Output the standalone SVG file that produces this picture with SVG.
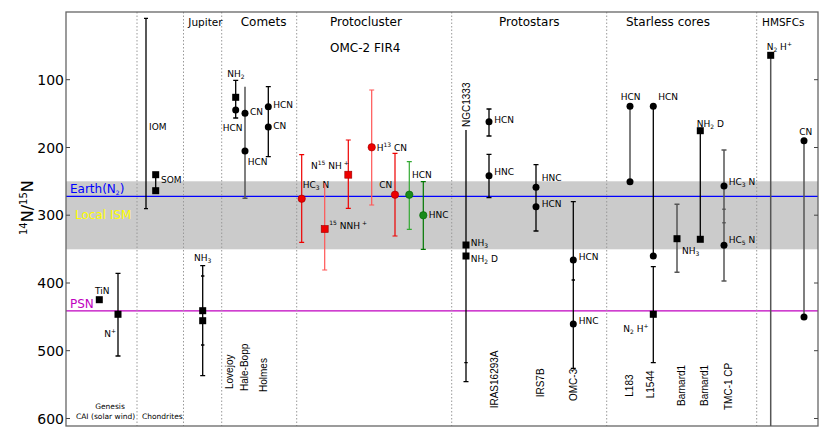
<svg xmlns="http://www.w3.org/2000/svg" width="830" height="442" viewBox="0 0 830 442">
<style>
text{font-family:"DejaVu Sans","Liberation Sans",sans-serif;fill:#000}
.lb{font-size:9px}
.s{font-size:6px}
.cat{font-size:12px}
.cs{font-size:10.5px}
.tk{font-size:14px}
.vl{font-family:"Liberation Sans","DejaVu Sans",sans-serif;font-size:10px}
.bt{font-size:7.5px}
.k{stroke:#000;stroke-width:1.3;fill:none}
.g{stroke:#555;stroke-width:1.5;fill:none}
.r{stroke:#e00;stroke-width:1.2;fill:none}
.lr{stroke:#f55;stroke-width:1.2;fill:none}
.gn{stroke:#070;stroke-width:1.2;fill:none}
.lg{stroke:#3a3;stroke-width:1.2;fill:none}
.dot{stroke:#999;stroke-width:1;stroke-dasharray:1.5,2}
.fr{stroke:#666;stroke-width:1.3;fill:none}
</style>
<rect width="830" height="442" fill="#fff"/>
<g id="bands">
<rect x="66" y="181.3" width="752" height="68" fill="#cbcbcb"/>
<line x1="66" y1="196.3" x2="818" y2="196.3" stroke="#0000ff" stroke-width="1.3"/>
<line x1="66" y1="310.8" x2="818" y2="310.8" stroke="#bf00bf" stroke-width="1.3"/>
<text x="70" y="193" style="font-size:12px;fill:#0000ff">Earth(N<tspan class="s" dy="2" style="fill:#0000ff">2</tspan><tspan dy="-2" style="fill:#0000ff">)</tspan></text>
<text x="75" y="218.5" style="font-size:12px;fill:#ffff00">Local ISM</text>
<text x="70" y="308" style="font-size:12px;fill:#bf00bf">PSN</text>
</g>
<g id="dividers">
<line class="dot" x1="137" y1="12" x2="137" y2="426"/>
<line class="dot" x1="183.5" y1="12" x2="183.5" y2="426"/>
<line class="dot" x1="221.7" y1="12" x2="221.7" y2="426"/>
<line class="dot" x1="296.7" y1="12" x2="296.7" y2="426"/>
<line class="dot" x1="451.7" y1="12" x2="451.7" y2="426"/>
<line class="dot" x1="606.7" y1="12" x2="606.7" y2="426"/>
<line class="dot" x1="756.7" y1="12" x2="756.7" y2="426"/>
</g>
<g id="axes">
<rect class="fr" x="66" y="12" width="752" height="414"/>
<g stroke="#444" stroke-width="1">
<line x1="66" y1="79.7" x2="70" y2="79.7"/><line x1="66" y1="147.5" x2="70" y2="147.5"/><line x1="66" y1="215.2" x2="70" y2="215.2"/><line x1="66" y1="283" x2="70" y2="283"/><line x1="66" y1="350.7" x2="70" y2="350.7"/><line x1="66" y1="418.5" x2="70" y2="418.5"/>
<line x1="814" y1="79.7" x2="818" y2="79.7"/><line x1="814" y1="147.5" x2="818" y2="147.5"/><line x1="814" y1="215.2" x2="818" y2="215.2"/><line x1="814" y1="283" x2="818" y2="283"/><line x1="814" y1="350.7" x2="818" y2="350.7"/><line x1="814" y1="418.5" x2="818" y2="418.5"/>
</g>
<g class="tk" text-anchor="end">
<text class="tk" x="64" y="84.7">100</text>
<text class="tk" x="64" y="152.5">200</text>
<text class="tk" x="64" y="220.2">300</text>
<text class="tk" x="64" y="288">400</text>
<text class="tk" x="64" y="355.7">500</text>
<text class="tk" x="64" y="423.5">600</text>
</g>
<text transform="translate(33,235) rotate(-90)" style="font-size:16px"><tspan style="font-size:10px" dy="-6">14</tspan><tspan dy="6">N/</tspan><tspan style="font-size:10px" dy="-6">15</tspan><tspan dy="6">N</tspan></text>
</g>
<g id="headings">
<text class="cs" x="188.3" y="26">Jupiter</text>
<text class="cat" x="240.7" y="26">Comets</text>
<text class="cat" x="330" y="26">Protocluster</text>
<text class="cat" x="330" y="51.7">OMC-2 FIR4</text>
<text class="cat" x="499" y="26">Protostars</text>
<text class="cat" x="626" y="26">Starless cores</text>
<text class="cs" x="762" y="26">HMSFCs</text>
<text class="bt" x="110" y="409" text-anchor="middle">Genesis</text>
<text class="bt" x="76" y="419">CAI (solar wind)</text>
<text class="bt" x="142" y="419">Chondrites</text>
</g>
<g id="genesis">
<rect x="95.8" y="296.2" width="7" height="7"/>
<text class="lb" x="95" y="294">TiN</text>
<path class="k" d="M118 273.3V356M115.5 273.3h5M115.5 356h5"/>
<rect x="114.5" y="310.8" width="7" height="7"/>
<text class="lb" x="104.3" y="337">N<tspan class="s" dy="-4">+</tspan></text>
</g>
<g id="chondrites">
<path class="k" d="M146 18.3V208.7M144 18.3h4M144 208.7h4"/>
<text class="lb" x="149" y="129.5">IOM</text>
<path class="k" d="M155.7 174.7V190.7"/>
<rect x="152.2" y="171.2" width="7" height="7"/>
<rect x="152.2" y="187.2" width="7" height="7"/>
<text class="lb" x="161" y="182.7">SOM</text>
</g>
<g id="jupiter">
<path class="k" d="M202.7 265.7V375.7M200.2 265.7h5M200.2 375.7h5M201 276h3.4M201 345h3.4"/>
<rect x="199.2" y="307.2" width="7" height="7"/>
<rect x="199.2" y="317.2" width="7" height="7"/>
<text class="lb" x="194" y="261">NH<tspan class="s" dy="2">3</tspan></text>
</g>
<g id="lovejoy">
<path class="k" d="M235.7 80.3V118M233.2 80.3h5M233.2 118h5"/>
<rect x="232.2" y="93.8" width="7" height="7"/>
<circle cx="235.7" cy="110" r="3.5"/>
<text class="lb" x="227.3" y="77.3">NH<tspan class="s" dy="2">2</tspan></text>
<text class="lb" x="222.7" y="131">HCN</text>
<text class="vl" transform="translate(233,389) rotate(-90)">Lovejoy</text>
</g>
<g id="halebopp">
<path class="g" d="M245 86.7V198.3M242.5 198.3h5"/>
<circle cx="245" cy="113.3" r="3.5"/>
<circle cx="245" cy="151" r="3.5"/>
<text class="lb" x="250" y="114.5">CN</text>
<text class="lb" x="247.7" y="165.3">HCN</text>
<text class="vl" transform="translate(248,391) rotate(-90)">Hale-Bopp</text>
</g>
<g id="holmes">
<path class="k" d="M268.3 86.7V156.7M265.8 86.7h5M265.8 156.7h5"/>
<circle cx="268.3" cy="106.7" r="3.5"/>
<circle cx="268.3" cy="127" r="3.5"/>
<text class="lb" x="273.3" y="108.3">HCN</text>
<text class="lb" x="273.3" y="128.7">CN</text>
<text class="vl" transform="translate(267,392) rotate(-90)">Holmes</text>
</g>
<g id="omc2-hc3n">
<path class="r" d="M301.7 154.7V242.3M299.2 154.7h5M299.2 242.3h5"/>
<circle cx="301.7" cy="198.7" r="3.7" fill="#e00" stroke="#900" stroke-width="0.6"/>
<text class="lb" x="302.7" y="187.7">HC<tspan class="s" dy="2">3</tspan><tspan dy="-2"> N</tspan></text>
</g>
<g id="omc2-15nnh">
<path class="lr" d="M324.7 183V270M322.2 270h5"/>
<rect x="321.2" y="225.5" width="7" height="7" fill="#e00" stroke="#900" stroke-width="0.6"/>
<text class="lb" x="329.3" y="229"><tspan class="s" dy="-4">15</tspan><tspan dy="4"> NNH</tspan><tspan class="s" dy="-4"> +</tspan></text>
</g>
<g id="omc2-n15nh">
<path class="r" d="M348.3 140V208.3M345.8 140h5M345.8 208.3h5"/>
<rect x="344.8" y="171.2" width="7" height="7" fill="#e00" stroke="#900" stroke-width="0.6"/>
<text class="lb" x="311" y="169">N<tspan class="s" dy="-4">15</tspan><tspan dy="4"> NH</tspan><tspan class="s" dy="-4"> +</tspan></text>
</g>
<g id="omc2-h13cn">
<path class="lr" d="M371.7 90V205M369.2 90h5M369.2 205h5"/>
<circle cx="371.7" cy="147.3" r="3.7" fill="#e00" stroke="#900" stroke-width="0.6"/>
<text class="lb" x="376.7" y="150.7">H<tspan class="s" dy="-4">13</tspan><tspan dy="4"> CN</tspan></text>
</g>
<g id="omc2-cn">
<path class="r" d="M395 153.3V236M392.5 153.3h5M392.5 236h5"/>
<circle cx="395" cy="194.7" r="3.7" fill="#e00" stroke="#900" stroke-width="0.6"/>
<text class="lb" x="379.3" y="187.7">CN</text>
</g>
<g id="omc2-hcn">
<path class="lg" d="M409.3 161.7V229.3M406.8 161.7h5M406.8 229.3h5"/>
<circle cx="409.3" cy="194.7" r="3.7" fill="#1a8a1a" stroke="#060" stroke-width="0.6"/>
<text class="lb" x="412" y="178.3">HCN</text>
</g>
<g id="omc2-hnc">
<path class="gn" d="M423.3 181.7V249.3M420.8 181.7h5M420.8 249.3h5"/>
<circle cx="423.3" cy="215.3" r="3.7" fill="#1a8a1a" stroke="#060" stroke-width="0.6"/>
<text class="lb" x="428.7" y="218.3">HNC</text>
</g>
<g id="ngc1333">
<path class="k" d="M466 130V381.7M463.5 381.7h5M464.3 362.7h3.4"/>
<rect x="462.5" y="241.5" width="7" height="7"/>
<rect x="462.5" y="252.5" width="7" height="7"/>
<text class="lb" x="470.7" y="246">NH<tspan class="s" dy="2">3</tspan></text>
<text class="lb" x="470.7" y="262.3">NH<tspan class="s" dy="2">2</tspan><tspan dy="-2"> D</tspan></text>
<text class="vl" transform="translate(470,127) rotate(-90)">NGC1333</text>
</g>
<g id="iras16293a">
<path class="k" d="M489 109V136M486.5 109h5M486.5 136h5M489 154.3V197.7M486.5 154.3h5M486.5 197.7h5"/>
<circle cx="489" cy="121.7" r="3.5"/>
<circle cx="489" cy="175.7" r="3.5"/>
<text class="lb" x="494.3" y="123.3">HCN</text>
<text class="lb" x="494.3" y="175">HNC</text>
<text class="vl" transform="translate(497.5,408.3) rotate(-90)">IRAS16293A</text>
</g>
<g id="irs7b">
<path class="k" d="M536 164.7V231M533.5 164.7h5M533.5 231h5"/>
<circle cx="536" cy="187.3" r="3.5"/>
<circle cx="536" cy="206.7" r="3.5"/>
<text class="lb" x="541.7" y="180.7">HNC</text>
<text class="lb" x="541.7" y="206.7">HCN</text>
<text class="vl" transform="translate(544,397.3) rotate(-90)">IRS7B</text>
</g>
<g id="omc3">
<path class="k" d="M573.3 201.7V368.3M570.8 201.7h5M570.8 368.3h5M571.6 280h3.4"/>
<circle cx="573.3" cy="260" r="3.5"/>
<circle cx="573.3" cy="324" r="3.5"/>
<text class="lb" x="578.7" y="260">HCN</text>
<text class="lb" x="578.7" y="324">HNC</text>
<text class="vl" transform="translate(576.5,401) rotate(-90)">OMC-3</text>
</g>
<g id="l183">
<path class="g" d="M630 106.3V181.7"/>
<circle cx="630" cy="106.3" r="3.5"/>
<circle cx="630" cy="181.7" r="3.5"/>
<text class="lb" x="620.7" y="100">HCN</text>
<text class="vl" transform="translate(633,396.7) rotate(-90)">L183</text>
</g>
<g id="l1544">
<path class="k" d="M653.3 106.3V256M653.3 266.7V362.7M650.8 266.7h5M650.8 362.7h5"/>
<circle cx="653.3" cy="106.3" r="3.5"/>
<circle cx="653.3" cy="256" r="3.5"/>
<rect x="649.8" y="310.8" width="7" height="7"/>
<text class="lb" x="658.3" y="100">HCN</text>
<text class="lb" x="623.3" y="332.3">N<tspan class="s" dy="2">2</tspan><tspan dy="-2"> H</tspan><tspan class="s" dy="-4">+</tspan></text>
<text class="vl" transform="translate(654,398.3) rotate(-90)">L1544</text>
</g>
<g id="barnard1-nh3">
<path class="g" d="M677 204.3V272.3M674.5 204.3h5M674.5 272.3h5"/>
<rect x="673.5" y="235.2" width="7" height="7"/>
<text class="lb" x="682" y="254.3">NH<tspan class="s" dy="2">3</tspan></text>
<text class="vl" transform="translate(685,406) rotate(-90)">Barnard1</text>
</g>
<g id="barnard1-nh2d">
<path class="k" d="M700.3 130.7V239.3"/>
<rect x="696.8" y="127.2" width="7" height="7"/>
<rect x="696.8" y="235.8" width="7" height="7"/>
<text class="lb" x="696.7" y="127.3">NH<tspan class="s" dy="2">2</tspan><tspan dy="-2"> D</tspan></text>
<text class="vl" transform="translate(708,406) rotate(-90)">Barnard1</text>
</g>
<g id="tmc1cp">
<path class="g" d="M724 150V281M721.5 150h5M721.5 281h5M722.3 209.3h3.4M722.3 222.7h3.4"/>
<circle cx="724" cy="186" r="3.5"/>
<circle cx="724" cy="245.3" r="3.5"/>
<text class="lb" x="728.7" y="185.3">HC<tspan class="s" dy="2">3</tspan><tspan dy="-2"> N</tspan></text>
<text class="lb" x="728.7" y="243.3">HC<tspan class="s" dy="2">5</tspan><tspan dy="-2"> N</tspan></text>
<text class="vl" transform="translate(731.5,410) rotate(-90)">TMC-1 CP</text>
</g>
<g id="hmsfc-n2h">
<path class="g" d="M770.7 55.3V426"/>
<rect x="767.2" y="51.8" width="7" height="7"/>
<text class="lb" x="766.7" y="50">N<tspan class="s" dy="2">2</tspan><tspan dy="-2"> H</tspan><tspan class="s" dy="-4">+</tspan></text>
</g>
<g id="hmsfc-cn">
<path class="g" d="M804 140.7V317"/>
<circle cx="804" cy="140.7" r="3.5"/>
<circle cx="804" cy="317" r="3.5"/>
<text class="lb" x="799.3" y="135">CN</text>
</g>
</svg>
